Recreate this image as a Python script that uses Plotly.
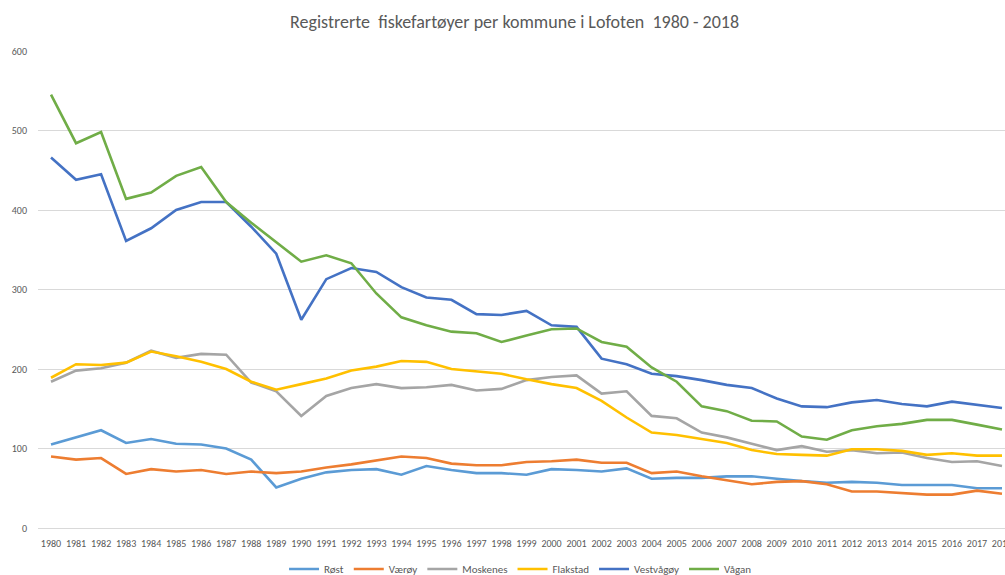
import plotly.graph_objects as go

# Registrerte fiskefartøyer per kommune, Lofoten 1980 - 2018
years = list(range(1980, 2019))

rost = [105, 114, 123, 107, 112, 106, 105, 100, 86, 51, 62, 70, 73, 74, 67, 78, 73, 69, 69, 67,
        74, 73, 71, 75, 62, 63, 63, 65, 65, 62, 59, 57, 58, 57, 54, 54, 54, 50, 50]
vaeroy = [90, 86, 88, 68, 74, 71, 73, 68, 71, 69, 71, 76, 80, 85, 90, 88, 81, 79, 79, 83,
          84, 86, 82, 82, 69, 71, 65, 60, 55, 58, 59, 55, 46, 46, 44, 42, 42, 47, 43]
moskenes = [184, 198, 201, 208, 223, 214, 219, 218, 183, 172, 141, 166, 176, 181, 176, 177, 180, 173, 175, 186,
            190, 192, 169, 172, 141, 138, 120, 114, 106, 98, 103, 96, 98, 94, 95, 88, 83, 84, 78]
flakstad = [189, 206, 205, 208, 222, 216, 209, 200, 184, 174, 181, 188, 198, 203, 210, 209, 200, 197, 194, 187,
            181, 176, 160, 139, 120, 117, 112, 107, 98, 93, 92, 91, 99, 99, 97, 92, 94, 91, 91]
vestvagoy = [466, 438, 445, 361, 377, 400, 410, 410, 379, 345, 262, 313, 327, 322, 303, 290, 287, 269, 268, 273,
             255, 253, 213, 206, 194, 191, 186, 180, 176, 163, 153, 152, 158, 161, 156, 153, 159, 155, 151]
vagan = [545, 484, 498, 414, 422, 443, 454, 410, 384, 360, 335, 343, 333, 295, 265, 255, 247, 245, 234, 242,
         250, 251, 234, 228, 202, 184, 153, 147, 135, 134, 115, 111, 123, 128, 131, 136, 136, 130, 124]

series = [
    ("Røst", rost, "#5B9BD5"),
    ("Værøy", vaeroy, "#ED7D31"),
    ("Moskenes", moskenes, "#A5A5A5"),
    ("Flakstad", flakstad, "#FFC000"),
    ("Vestvågøy", vestvagoy, "#4472C4"),
    ("Vågan", vagan, "#70AD47"),
]

fnt = "Calibri, Carlito, 'Open Sans', sans-serif"

fig = go.Figure()
for name, vals, col in series:
    fig.add_trace(go.Scatter(x=years, y=vals, name=name, mode="lines",
                             line=dict(color=col, width=2.6)))

fig.update_layout(
    width=1005, height=575,
    margin=dict(l=38, r=0, t=51, b=47, autoexpand=False),
    paper_bgcolor="white", plot_bgcolor="white",
    font=dict(family=fnt, color="#595959", size=10),
    title=dict(text="Registrerte\u00a0 fiskefartøyer per kommune i Lofoten\u00a0 1980 - 2018",
               x=0.512, xanchor="center", y=0.962, yanchor="middle",
               font=dict(family=fnt, size=18, color="#595959")),
    legend=dict(orientation="h", x=0.499, xanchor="center", y=-0.086, yanchor="middle",
                itemwidth=30, font=dict(size=11, color="#595959"), tracegroupgap=0),
    showlegend=True,
)
fig.update_xaxes(range=[1979.48, 2018.12], tickmode="array", tickvals=years,
                 ticktext=[str(y) for y in years], tickangle=0, showgrid=False,
                 showline=False, zeroline=False, ticks="", ticklabelstandoff=8,
                 ticklabeloverflow="allow", tickfont=dict(size=10, color="#595959"))
fig.update_yaxes(range=[0, 600], dtick=100, showgrid=True, gridcolor="#D9D9D9", gridwidth=1,
                 zeroline=True, zerolinecolor="#D9D9D9", zerolinewidth=1, showline=False,
                 ticks="", ticklabelstandoff=10, tickfont=dict(size=10, color="#595959"))

fig.write_html("out.html", config={"displayModeBar": False},
               post_script="document.body.style.margin='0';")
